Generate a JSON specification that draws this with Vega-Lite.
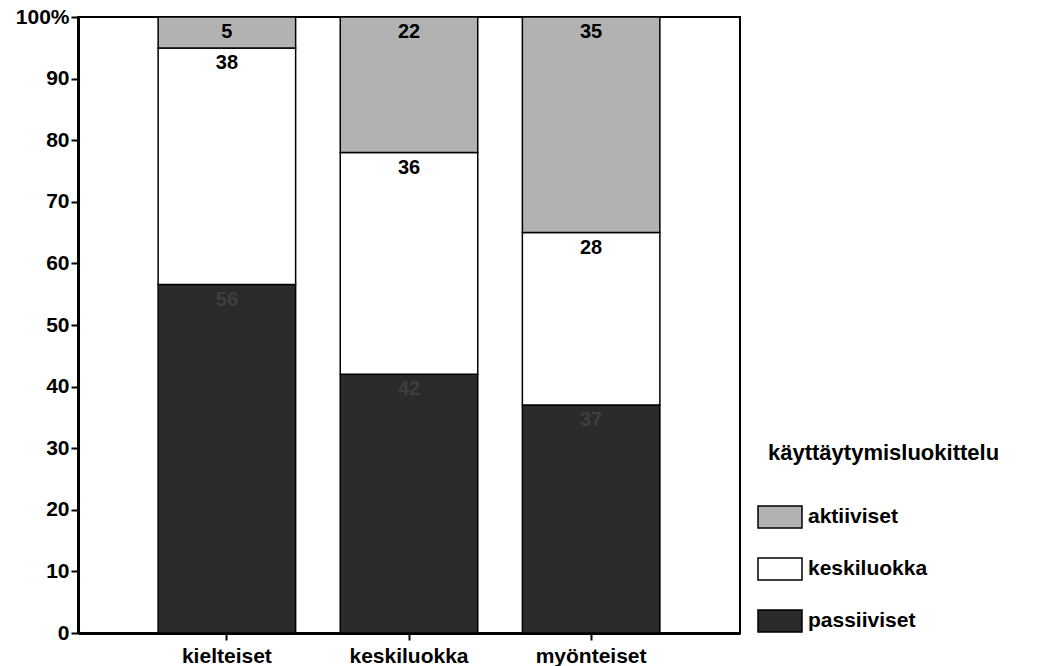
{
  "$schema": "https://vega.github.io/schema/vega-lite/v6.json",
  "autosize": "none",
  "width": 662,
  "height": 616,
  "padding": {"left": 78, "top": 17, "right": 302, "bottom": 33},
  "background": "white",
  "config": {
    "font": "Liberation Sans",
    "view": {"stroke": "black", "strokeWidth": 2},
    "axis": {"grid": false, "domainColor": "black", "domainWidth": 3, "tickColor": "black", "tickWidth": 2, "labelColor": "black", "labelFontSize": 20, "labelFontWeight": "bold", "labelFont": "Liberation Sans"}
  },
  "data": {
    "values": [
      {"ryhma": "kielteiset", "luokka": "passiiviset", "osuus": 56},
      {"ryhma": "kielteiset", "luokka": "keskiluokka", "osuus": 38},
      {"ryhma": "kielteiset", "luokka": "aktiiviset", "osuus": 5},
      {"ryhma": "keskiluokka", "luokka": "passiiviset", "osuus": 42},
      {"ryhma": "keskiluokka", "luokka": "keskiluokka", "osuus": 36},
      {"ryhma": "keskiluokka", "luokka": "aktiiviset", "osuus": 22},
      {"ryhma": "myönteiset", "luokka": "passiiviset", "osuus": 37},
      {"ryhma": "myönteiset", "luokka": "keskiluokka", "osuus": 28},
      {"ryhma": "myönteiset", "luokka": "aktiiviset", "osuus": 35}
    ]
  },
  "encoding": {
    "x": {
      "field": "ryhma", "type": "nominal", "sort": ["kielteiset", "keskiluokka", "myönteiset"],
      "scale": {"paddingInner": 0.245, "paddingOuter": 0.44},
      "axis": {"title": null, "labelAngle": 0, "tickSize": 7, "labelPadding": 5, "domainWidth": 3, "labelFontSize": 21}
    },
    "y": {
      "field": "osuus", "type": "quantitative", "stack": "normalize",
      "scale": {"domain": [0, 1]},
      "axis": {"title": null, "values": [0, 0.1, 0.2, 0.3, 0.4, 0.5, 0.6, 0.7, 0.8, 0.9, 1], "labelExpr": "datum.value >= 1 ? '100%' : format(datum.value * 100, 'd')", "tickSize": 7, "labelPadding": 2, "labelFontSize": 21}
    },
    "order": {"field": "luokka", "sort": "descending"}
  },
  "layer": [
    {
      "mark": {"type": "bar", "stroke": "black", "strokeWidth": 1.5, "opacity": 1},
      "encoding": {
        "color": {
          "field": "luokka", "type": "nominal",
          "scale": {"domain": ["aktiiviset", "keskiluokka", "passiiviset"], "range": ["#b2b2b2", "#ffffff", "#2b2b2b"]},
          "legend": {
            "orient": "none", "legendX": 690, "legendY": 426,
            "title": "käyttäytymisluokittelu", "titleFontSize": 22, "titleFontWeight": "bold", "titleColor": "black", "titlePadding": 40, "titleLimit": 400,
            "symbolType": "M-2,-1H2V1H-2Z", "symbolSize": 484, "symbolStrokeColor": "black", "symbolStrokeWidth": 1.5, "symbolOpacity": 1,
            "labelFontSize": 21, "labelFontWeight": "bold", "labelColor": "black", "labelOffset": 16, "rowPadding": 24, "labelLimit": 300
          }
        }
      }
    },
    {
      "mark": {"type": "text", "baseline": "top", "dy": 5, "fontSize": 20, "fontWeight": "bold"},
      "encoding": {
        "text": {"field": "osuus", "type": "quantitative"},
        "color": {
          "condition": {"test": "datum.luokka === 'passiiviset'", "value": "#3e3e3e"},
          "value": "black"
        }
      }
    }
  ]
}
